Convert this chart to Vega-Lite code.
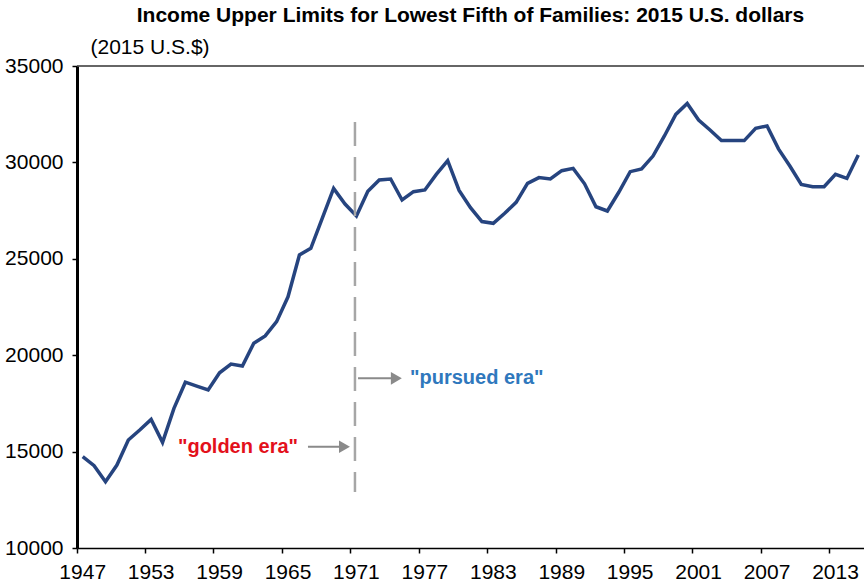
{
  "$schema": "https://vega.github.io/schema/vega-lite/v6.json",
  "autosize": {"type": "none"},
  "padding": {"left": 77, "top": 66, "right": 0, "bottom": 34},
  "width": 787,
  "height": 482,
  "background": "white",
  "config": {"font": "Liberation Sans", "view": {"stroke": null}},
  "title": {
    "text": "Income Upper Limits for Lowest Fifth of Families: 2015 U.S. dollars",
    "fontSize": 21,
    "fontWeight": "bold",
    "font": "Liberation Sans",
    "color": "#000000",
    "anchor": "middle",
    "frame": "group",
    "offset": 10
  },
  "datasets": {
    "income": [
      {"year": 1947, "income": 14740}, {"year": 1948, "income": 14270}, {"year": 1949, "income": 13440},
      {"year": 1950, "income": 14300}, {"year": 1951, "income": 15600}, {"year": 1952, "income": 16120},
      {"year": 1953, "income": 16670}, {"year": 1954, "income": 15480}, {"year": 1955, "income": 17240},
      {"year": 1956, "income": 18600}, {"year": 1957, "income": 18400}, {"year": 1958, "income": 18200},
      {"year": 1959, "income": 19090}, {"year": 1960, "income": 19540}, {"year": 1961, "income": 19440},
      {"year": 1962, "income": 20620}, {"year": 1963, "income": 21000}, {"year": 1964, "income": 21740},
      {"year": 1965, "income": 23030}, {"year": 1966, "income": 25200}, {"year": 1967, "income": 25540},
      {"year": 1968, "income": 27100}, {"year": 1969, "income": 28650}, {"year": 1970, "income": 27840},
      {"year": 1971, "income": 27220}, {"year": 1972, "income": 28500}, {"year": 1973, "income": 29090},
      {"year": 1974, "income": 29140}, {"year": 1975, "income": 28050}, {"year": 1976, "income": 28480},
      {"year": 1977, "income": 28570}, {"year": 1978, "income": 29380}, {"year": 1979, "income": 30090},
      {"year": 1980, "income": 28550}, {"year": 1981, "income": 27650}, {"year": 1982, "income": 26930},
      {"year": 1983, "income": 26840}, {"year": 1984, "income": 27360}, {"year": 1985, "income": 27930},
      {"year": 1986, "income": 28910}, {"year": 1987, "income": 29210}, {"year": 1988, "income": 29140},
      {"year": 1989, "income": 29570}, {"year": 1990, "income": 29690}, {"year": 1991, "income": 28890},
      {"year": 1992, "income": 27700}, {"year": 1993, "income": 27480}, {"year": 1994, "income": 28450},
      {"year": 1995, "income": 29520}, {"year": 1996, "income": 29660}, {"year": 1997, "income": 30330},
      {"year": 1998, "income": 31370}, {"year": 1999, "income": 32490}, {"year": 2000, "income": 33060},
      {"year": 2001, "income": 32200}, {"year": 2002, "income": 31680}, {"year": 2003, "income": 31130},
      {"year": 2004, "income": 31130}, {"year": 2005, "income": 31130}, {"year": 2006, "income": 31770},
      {"year": 2007, "income": 31890}, {"year": 2008, "income": 30700}, {"year": 2009, "income": 29810},
      {"year": 2010, "income": 28860}, {"year": 2011, "income": 28740}, {"year": 2012, "income": 28740},
      {"year": 2013, "income": 29380}, {"year": 2014, "income": 29170}, {"year": 2015, "income": 30380}
    ],
    "divider": [{"year": 1971.37, "from": 32100, "to": 12900}],
    "arrows": [
      {"start": 1967.25, "end": 1970.15, "level": 15250},
      {"start": 1971.64, "end": 1974.7, "level": 18800}
    ],
    "heads": [
      {"year": 1970.45, "level": 15250},
      {"year": 1975.0, "level": 18800}
    ],
    "golden": [{"year": 1966.38, "level": 15250, "label": "\"golden era\""}],
    "pursued": [{"year": 1976.2, "level": 18800, "label": "\"pursued era\""}]
  },
  "layer": [
    {
      "layer": [
        {
          "data": {"name": "income"},
          "mark": {"type": "line", "color": "#26447f", "strokeWidth": 3.5, "strokeJoin": "miter"},
          "encoding": {
            "x": {
              "field": "year",
              "type": "ordinal",
              "scale": {"type": "band", "paddingInner": 0, "paddingOuter": 0},
              "axis": {
                "values": [1947, 1953, 1959, 1965, 1971, 1977, 1983, 1989, 1995, 2001, 2007, 2013],
                "bandPosition": 0,
                "title": null,
                "labelAngle": 0,
                "labelFontSize": 21,
                "labelColor": "#000000",
                "labelPadding": 8,
                "tickSize": 5,
                "tickColor": "#000000",
                "tickWidth": 1.5,
                "domainColor": "#000000",
                "domainWidth": 1.7,
                "grid": false
              }
            },
            "y": {
              "field": "income",
              "type": "quantitative",
              "scale": {"domain": [10000, 35000], "nice": false, "zero": false},
              "axis": {
                "values": [10000, 15000, 20000, 25000, 30000, 35000],
                "format": "d",
                "grid": false,
                "labelFontSize": 21,
                "labelColor": "#000000",
                "labelPadding": 9,
                "tickSize": 5,
                "tickColor": "#000000",
                "tickWidth": 1.5,
                "domainColor": "#000000",
                "domainWidth": 3,
                "title": "(2015 U.S.$)",
                "titleAngle": 0,
                "titleAlign": "left",
                "titleBaseline": "alphabetic",
                "titleX": 13,
                "titleY": -13,
                "titleFontSize": 21,
                "titleFontWeight": "normal",
                "titleColor": "#000000"
              }
            }
          }
        }
      ]
    },
    {
      "layer": [
        {
          "data": {"values": [{"top": 35000}]},
          "mark": {"type": "rule", "color": "#333333", "strokeWidth": 1.5},
          "encoding": {"y": {"field": "top", "type": "quantitative"}}
        },
        {
          "data": {"name": "divider"},
          "mark": {"type": "rule", "color": "#a6a6a6", "strokeWidth": 2.5, "strokeDash": [24, 11]},
          "encoding": {
            "x": {"field": "year", "type": "quantitative", "scale": {"domain": [1947, 2016], "nice": false, "zero": false}, "axis": null},
            "y": {"field": "from", "type": "quantitative"},
            "y2": {"field": "to"}
          }
        },
        {
          "data": {"name": "arrows"},
          "mark": {"type": "rule", "color": "#8a8a8a", "strokeWidth": 2},
          "encoding": {
            "x": {"field": "start", "type": "quantitative", "scale": {"domain": [1947, 2016], "nice": false, "zero": false}, "axis": null},
            "x2": {"field": "end"},
            "y": {"field": "level", "type": "quantitative"}
          }
        },
        {
          "data": {"name": "heads"},
          "mark": {"type": "point", "shape": "triangle-right", "filled": true, "color": "#8a8a8a", "opacity": 1, "size": 160},
          "encoding": {
            "x": {"field": "year", "type": "quantitative", "scale": {"domain": [1947, 2016], "nice": false, "zero": false}, "axis": null},
            "y": {"field": "level", "type": "quantitative"}
          }
        },
        {
          "data": {"name": "golden"},
          "mark": {"type": "text", "color": "#e3101b", "fontSize": 20, "fontWeight": "bold", "align": "right", "baseline": "middle"},
          "encoding": {
            "x": {"field": "year", "type": "quantitative", "scale": {"domain": [1947, 2016], "nice": false, "zero": false}, "axis": null},
            "y": {"field": "level", "type": "quantitative"},
            "text": {"field": "label"}
          }
        },
        {
          "data": {"name": "pursued"},
          "mark": {"type": "text", "color": "#2f78bd", "fontSize": 20, "fontWeight": "bold", "align": "left", "baseline": "middle"},
          "encoding": {
            "x": {"field": "year", "type": "quantitative", "scale": {"domain": [1947, 2016], "nice": false, "zero": false}, "axis": null},
            "y": {"field": "level", "type": "quantitative"},
            "text": {"field": "label"}
          }
        }
      ]
    }
  ],
  "resolve": {"scale": {"x": "independent"}}
}
